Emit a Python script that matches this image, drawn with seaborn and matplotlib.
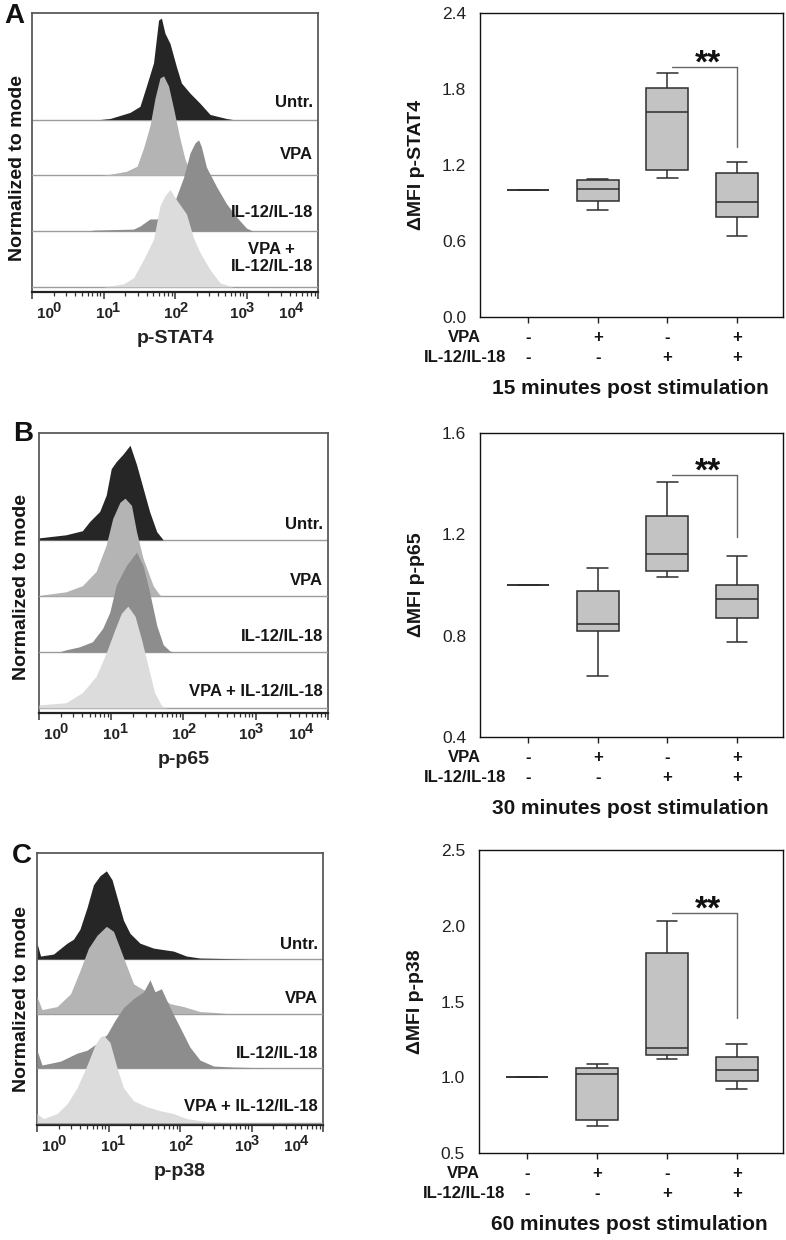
import numpy as np
import pandas as pd
import matplotlib
matplotlib.use("Agg")
import matplotlib.pyplot as plt
import seaborn as sns

# ---------------- data ----------------
conditions = ["Untr.", "VPA", "IL-12/IL-18", "VPA + IL-12/IL-18"]
vpa_signs = ["-", "+", "-", "+"]
il_signs = ["-", "-", "+", "+"]

# box plot five-number summaries (min, Q1, median, Q3, max)
stat4_untr = [1.0, 1.0, 1.0, 1.0, 1.0]
stat4_vpa = [0.845, 0.918, 1.013, 1.085, 1.09]
stat4_il = [1.097, 1.163, 1.618, 1.81, 1.924]
stat4_vpa_il = [0.642, 0.792, 0.908, 1.139, 1.224]

p65_untr = [1.0, 1.0, 1.0, 1.0, 1.0]
p65_vpa = [0.639, 0.818, 0.847, 0.976, 1.067]
p65_il = [1.032, 1.055, 1.124, 1.272, 1.407]
p65_vpa_il = [0.775, 0.871, 0.946, 0.999, 1.113]

p38_untr = [1.0, 1.0, 1.0, 1.0, 1.0]
p38_vpa = [0.676, 0.715, 1.021, 1.058, 1.089]
p38_il = [1.122, 1.146, 1.192, 1.819, 2.034]
p38_vpa_il = [0.924, 0.977, 1.05, 1.135, 1.219]

# significance brackets (bracket level, lower end of right leg)
stat4_bracket = [1.97, 1.342]
p65_bracket = [1.433, 1.189]
p38_bracket = [2.082, 1.39]

# histogram traces: log10 fluorescence and height (% of mode)
a_untr_x = [0.95, 1.09, 1.37, 1.51, 1.60, 1.70, 1.77, 1.81, 1.86, 1.93, 2.02, 2.09, 2.21, 2.35, 2.49, 2.72, 2.81]
a_untr_h = [0, 1, 7, 13, 33, 56, 98, 100, 85, 75, 52, 36, 26, 16, 5, 1, 0]
a_vpa_x = [0.95, 1.09, 1.32, 1.47, 1.56, 1.65, 1.72, 1.79, 1.84, 1.91, 1.98, 2.07, 2.14, 2.21, 2.35]
a_vpa_h = [0, 1, 4, 9, 27, 49, 76, 96, 98, 88, 66, 36, 16, 4, 0]
a_il_x = [0.81, 0.86, 1.42, 1.51, 1.65, 1.74, 1.93, 2.02, 2.12, 2.21, 2.28, 2.33, 2.37, 2.44, 2.58, 2.72, 2.86, 3.0, 3.09]
a_il_h = [0, 1, 2, 5, 12, 12, 17, 34, 53, 77, 87, 90, 83, 63, 44, 27, 14, 3, 0]
a_vpa_il_x = [1.0, 1.09, 1.28, 1.42, 1.56, 1.70, 1.79, 1.86, 1.93, 2.02, 2.16, 2.26, 2.35, 2.49, 2.63, 2.81]
a_vpa_il_h = [0, 1, 3, 9, 27, 47, 80, 90, 96, 86, 72, 48, 34, 17, 4, 0]

b_untr_x = [0.0, 0.37, 0.60, 0.70, 0.84, 0.93, 1.0, 1.07, 1.16, 1.26, 1.35, 1.44, 1.53, 1.63, 1.72]
b_untr_h = [2, 5, 9, 18, 28, 44, 70, 77, 84, 93, 74, 51, 28, 8, 0]
b_vpa_x = [0.0, 0.05, 0.37, 0.60, 0.79, 0.93, 1.02, 1.12, 1.19, 1.28, 1.35, 1.44, 1.58, 1.67, 1.72]
b_vpa_h = [0, 1, 4, 10, 24, 50, 76, 92, 96, 89, 63, 37, 10, 1, 0]
b_il_x = [0.28, 0.37, 0.56, 0.74, 0.88, 0.98, 1.07, 1.21, 1.35, 1.44, 1.53, 1.63, 1.72, 1.81, 1.86]
b_il_h = [0, 2, 5, 10, 23, 39, 66, 85, 98, 85, 59, 26, 7, 1, 0]
b_vpa_il_x = [0.0, 0.37, 0.60, 0.79, 0.93, 1.05, 1.14, 1.23, 1.33, 1.42, 1.51, 1.60, 1.70, 1.77]
b_vpa_il_h = [3, 5, 15, 31, 54, 77, 93, 100, 90, 67, 41, 15, 2, 0]

c_untr_x = [0.0, 0.05, 0.23, 0.42, 0.51, 0.60, 0.70, 0.79, 0.88, 0.97, 1.05, 1.12, 1.21, 1.30, 1.44, 1.63, 1.91, 2.09, 2.28, 2.98]
c_untr_h = [16, 3, 5, 16, 20, 30, 52, 75, 84, 89, 80, 62, 39, 26, 16, 11, 8, 3, 1, 0]
c_vpa_x = [0.0, 0.07, 0.28, 0.47, 0.60, 0.72, 0.84, 0.97, 1.07, 1.16, 1.26, 1.35, 1.49, 1.67, 1.86, 2.05, 2.28, 2.51, 2.65]
c_vpa_h = [17, 4, 7, 20, 43, 66, 79, 88, 83, 66, 47, 30, 24, 20, 10, 7, 2, 1, 0]
c_il_x = [0.0, 0.07, 0.33, 0.56, 0.70, 0.84, 0.98, 1.09, 1.21, 1.35, 1.49, 1.58, 1.65, 1.74, 1.86, 2.0, 2.14, 2.28, 2.47, 2.74, 3.30]
c_il_h = [18, 3, 7, 15, 18, 25, 34, 48, 61, 70, 77, 89, 77, 80, 61, 41, 21, 8, 2, 1, 0]
c_vpa_il_x = [0.0, 0.09, 0.28, 0.42, 0.56, 0.70, 0.81, 0.88, 0.93, 1.02, 1.12, 1.21, 1.35, 1.53, 1.72, 1.91, 2.09, 2.37, 2.65]
c_vpa_il_h = [9, 4, 9, 19, 35, 58, 78, 86, 88, 81, 55, 35, 22, 16, 12, 9, 4, 1, 0]

decade_exponents = ["0", "1", "2", "3", "4"]

# ---------------- style ----------------
sns.set_theme(style="white")
plt.rcParams["font.family"] = ["Liberation Sans", "DejaVu Sans"]

W, H = 786, 1240
fig = plt.figure(figsize=(W / 100, H / 100), dpi=100)


def rect(x0, y0, x1, y1):
    return [x0 / W, 1 - y1 / H, (x1 - x0) / W, (y1 - y0) / H]


hist_colors = ["#262626", "#b4b4b4", "#8d8d8d", "#dcdcdc"]
lane_base = [165, 110, 55, 0]
PX = 1 / 1.389  # px -> points


def histogram_panel(box, traces, xlabel, labels, ylim):
    ax = fig.add_axes(rect(*box))
    for i, (lx, h) in enumerate(traces):
        base = lane_base[i]
        ax.axhline(base, color="#9c9c9c", lw=1.0, zorder=2 + i)
        xs = 10 ** np.asarray(lx)
        ax.fill_between(xs, base, base + np.asarray(h), color=hist_colors[i],
                        lw=0, zorder=2 + i)
    ax.set_xscale("log")
    ax.set_xlim(1, 1e4)
    ax.set_ylim(*ylim)
    ax.set_xticks([1, 10, 100, 1000, 10000])
    ax.set_xticklabels([])
    ax.xaxis.set_minor_locator(matplotlib.ticker.LogLocator(base=10, subs=np.arange(2, 10)))
    ax.xaxis.set_minor_formatter(matplotlib.ticker.NullFormatter())
    ax.tick_params(axis="x", which="major", direction="out", length=5, width=1.1,
                   color="#333333", bottom=True)
    ax.tick_params(axis="x", which="minor", direction="out", length=3, width=0.9,
                   color="#333333", bottom=True)
    ax.set_yticks([])
    for s in ["top", "right", "left"]:
        ax.spines[s].set_color("#5a5a5a")
        ax.spines[s].set_linewidth(1.3)
    ax.spines["bottom"].set_color("#222222")
    ax.spines["bottom"].set_linewidth(1.6)
    for pos, ex in zip([0.19, 1.01, 1.96, 2.89, 3.58], decade_exponents):
        ax.annotate("10", xy=(10 ** pos, 0), xycoords=("data", "axes fraction"),
                    xytext=(0, -22 * PX), textcoords="offset points",
                    ha="center", va="center", fontsize=11, fontweight="bold", color="#222222")
        ax.annotate(ex, xy=(10 ** pos, 0), xycoords=("data", "axes fraction"),
                    xytext=(11 * PX, -16 * PX), textcoords="offset points",
                    ha="center", va="center", fontsize=10.5, fontweight="bold", color="#222222")
    ax.annotate(xlabel, xy=(0.5, 0), xycoords="axes fraction",
                xytext=(0, -47 * PX), textcoords="offset points",
                ha="center", va="center", fontsize=14, fontweight="bold", color="#222222")
    for i, (txt, dy) in enumerate(labels):
        ax.annotate(txt, xy=(1, lane_base[i]), xycoords=("axes fraction", "data"),
                    xytext=(-5 * PX, dy * PX), textcoords="offset points",
                    ha="right", va="center", multialignment="center",
                    fontsize=12, fontweight="bold", color="#151515", zorder=20)
    return ax


def box_panel(box, groups, ylim, yticks, ylabel, bracket, title):
    ax = fig.add_axes(rect(*box))
    df = pd.DataFrame({
        "cond": np.repeat(conditions, 5),
        "val": np.concatenate([np.asarray(g, float) for g in groups]),
    })
    sns.boxplot(data=df, x="cond", y="val", order=conditions, ax=ax,
                color="#c3c3c3", linecolor="#2e2e2e", linewidth=1.1, width=0.6,
                whis=(0, 100), fliersize=0, saturation=1)
    ax.set_xlim(-0.69, 3.66)
    ax.set_ylim(*ylim)
    ax.set_yticks(yticks)
    ax.set_yticklabels([f"{t:.1f}" for t in yticks], fontsize=12.5, color="#222222")
    ax.set_xticks([0, 1, 2, 3])
    ax.set_xticklabels([])
    ax.set_xlabel("")
    ax.set_ylabel("")
    ax.tick_params(axis="x", direction="out", length=4, width=1, color="#222222", bottom=True)
    ax.tick_params(axis="y", length=0, pad=10)
    for s in ax.spines.values():
        s.set_visible(True)
        s.set_color("#111111")
        s.set_linewidth(1.0)
    ax.text(-0.208, 0.5, ylabel, transform=ax.transAxes, rotation=90,
            ha="center", va="center", fontsize=14, fontweight="bold", color="#151515")
    # +/- table
    for i in range(4):
        ax.annotate(vpa_signs[i], xy=(i, 0), xycoords=("data", "axes fraction"),
                    xytext=(0, -21 * PX), textcoords="offset points",
                    ha="center", va="center", fontsize=12, fontweight="bold", color="#151515")
        ax.annotate(il_signs[i], xy=(i, 0), xycoords=("data", "axes fraction"),
                    xytext=(0, -41 * PX), textcoords="offset points",
                    ha="center", va="center", fontsize=12, fontweight="bold", color="#151515")
    ax.annotate("VPA", xy=(-0.05, 0), xycoords="axes fraction",
                xytext=(0, -21 * PX), textcoords="offset points",
                ha="center", va="center", fontsize=12, fontweight="bold", color="#151515")
    ax.annotate("IL-12/IL-18", xy=(-0.05, 0), xycoords="axes fraction",
                xytext=(0, -41 * PX), textcoords="offset points",
                ha="center", va="center", fontsize=12, fontweight="bold", color="#151515")
    ax.annotate(title, xy=(0.495, 0), xycoords="axes fraction",
                xytext=(0, -72 * PX), textcoords="offset points",
                ha="center", va="center", fontsize=15, fontweight="bold", color="#151515")
    # significance bracket
    top, low = bracket
    ax.plot([2.07, 3.0], [top, top], color="#666666", lw=1.0, zorder=5)
    ax.plot([3.0, 3.0], [top, low], color="#666666", lw=1.0, zorder=5)
    ax.annotate("**", xy=(2.58, top), xycoords="data",
                xytext=(0, -4), textcoords="offset points",
                ha="center", va="baseline", fontsize=24, fontweight="bold", color="#111111")
    return ax


hist_labels_a = [("Untr.", 17), ("VPA", 21), ("IL-12/IL-18", 19), ("VPA +\nIL-12/IL-18", 29)]
hist_labels_bc = [("Untr.", 15), ("VPA", 15), ("IL-12/IL-18", 15), ("VPA + IL-12/IL-18", 16)]

histogram_panel((32, 13, 318, 292),
                [(a_untr_x, a_untr_h), (a_vpa_x, a_vpa_h), (a_il_x, a_il_h), (a_vpa_il_x, a_vpa_il_h)],
                "p-STAT4", hist_labels_a, (-5, 270))
histogram_panel((39, 433, 328, 713),
                [(b_untr_x, b_untr_h), (b_vpa_x, b_vpa_h), (b_il_x, b_il_h), (b_vpa_il_x, b_vpa_il_h)],
                "p-p65", hist_labels_bc, (-5, 270))
histogram_panel((37, 853, 323, 1125),
                [(c_untr_x, c_untr_h), (c_vpa_x, c_vpa_h), (c_il_x, c_il_h), (c_vpa_il_x, c_vpa_il_h)],
                "p-p38", hist_labels_bc, (-2.5, 272))

box_panel((480, 13, 783, 317), [stat4_untr, stat4_vpa, stat4_il, stat4_vpa_il],
          (0, 2.4), [0.0, 0.6, 1.2, 1.8, 2.4], "\u0394MFI p-STAT4", stat4_bracket,
          "15 minutes post stimulation")
box_panel((480, 433, 783, 737), [p65_untr, p65_vpa, p65_il, p65_vpa_il],
          (0.4, 1.6), [0.4, 0.8, 1.2, 1.6], "\u0394MFI p-p65", p65_bracket,
          "30 minutes post stimulation")
box_panel((479, 850, 783, 1153), [p38_untr, p38_vpa, p38_il, p38_vpa_il],
          (0.5, 2.5), [0.5, 1.0, 1.5, 2.0, 2.5], "\u0394MFI p-p38", p38_bracket,
          "60 minutes post stimulation")

# panel letters and shared y labels of histograms
for letter, (x, y) in zip("ABC", [(14, 16), (23, 434), (22, 856)]):
    fig.text(x / W, 1 - y / H, letter, fontsize=20, fontweight="bold",
             ha="center", va="center", color="#111111")
for (x, y) in [(17.5, 168), (22, 587), (22, 999)]:
    fig.text(x / W, 1 - y / H, "Normalized to mode", rotation=90, fontsize=14,
             fontweight="bold", ha="center", va="center", color="#151515")

fig.savefig("out.png", dpi=100)
